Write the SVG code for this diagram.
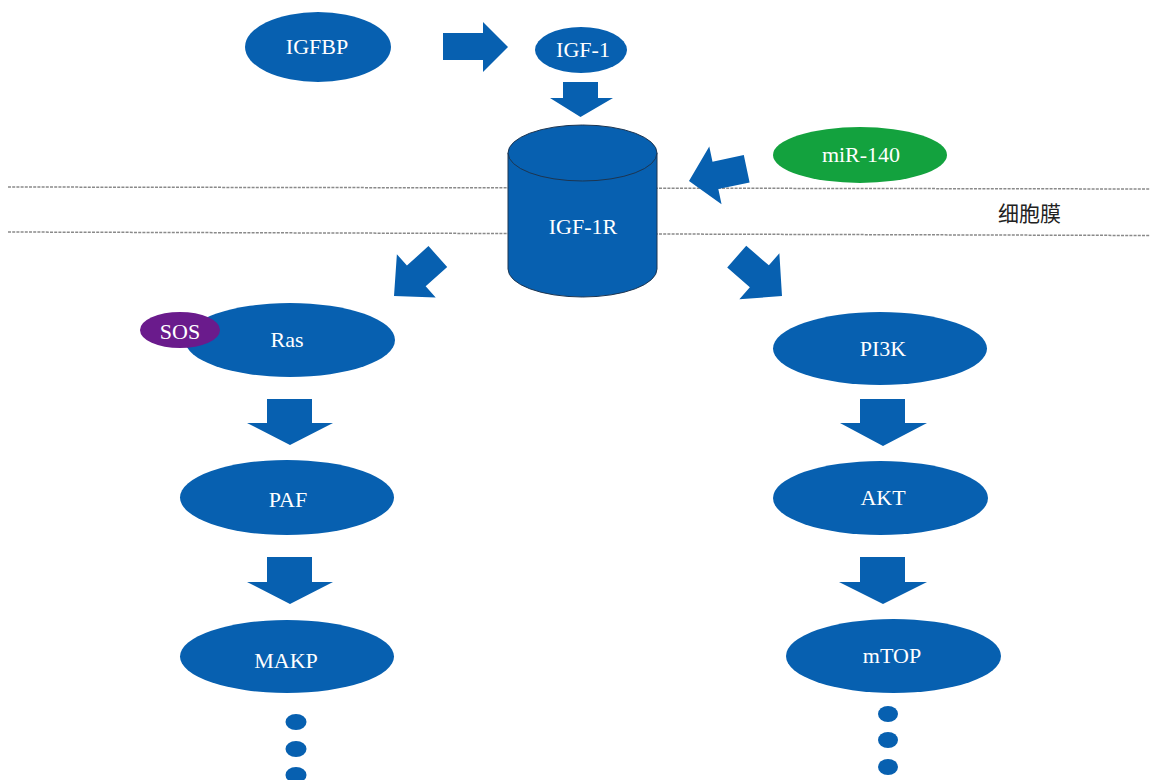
<svg xmlns="http://www.w3.org/2000/svg" width="1150" height="780" viewBox="0 0 1150 780">
<style>
.n{fill:#0760b0}
.t{font-family:"Liberation Serif","Times New Roman",serif;font-size:22px;fill:#ffffff;text-anchor:middle}
.arr{fill:#0760b0}
.mem{stroke:#8a8a8a;stroke-width:1.5;stroke-dasharray:3 1.2;fill:none}
.dot{fill:#0760b0}
</style>
<rect width="1150" height="780" fill="#ffffff"/>
<g id="membrane">
<line class="mem" x1="8" y1="187" x2="1150" y2="189"/>
<line class="mem" x1="8" y1="232" x2="1150" y2="235.5"/>
<text x="998" y="221" style="font-family:'Noto Sans CJK SC','Noto Sans',sans-serif;font-size:21px;fill:#222">细胞膜</text>
</g>
<g id="connectors">
<path class="arr" d="M443,33 L483,33 L483,22 L508,47 L483,72 L483,60 L443,60 Z"/>
<path class="arr" d="M563,82 L598,82 L598,98 L613,98 L580.5,117 L550,98 L563,98 Z"/>
<path class="arr" transform="translate(689,181) rotate(168)" d="M0,0 L-27,-29.5 L-27,-14 L-59,-14 L-59,14 L-27,14 L-27,29.5 Z"/>
<path class="arr" transform="translate(394,296) rotate(138)" d="M0,0 L-30,-29 L-30,-14 L-59,-14 L-59,14 L-30,14 L-30,29 Z"/>
<path class="arr" transform="translate(782,296) rotate(41)" d="M0,0 L-30,-30.5 L-30,-14.5 L-60,-14.5 L-60,14.5 L-30,14.5 L-30,30.5 Z"/>
<path class="arr" d="M267,399 L312,399 L312,423 L333,423 L290,445 L247,423 L267,423 Z"/>
<path class="arr" d="M267,557 L312,557 L312,582 L333,582 L290,604 L247,582 L267,582 Z"/>
<path class="arr" d="M860,399 L905,399 L905,423 L927,423 L883,446 L840,423 L860,423 Z"/>
<path class="arr" d="M860,557 L905,557 L905,582 L927,582 L883,604 L839,582 L860,582 Z"/>
</g>
<g id="IGFBP"><ellipse class="n" cx="318" cy="47" rx="73" ry="35"/><text class="t" x="317" y="54">IGFBP</text></g>
<g id="IGF-1"><ellipse class="n" cx="581" cy="50" rx="46" ry="23"/><text class="t" x="583" y="57">IGF-1</text></g>
<g id="IGF-1R">
<path d="M508,153 L508,269 A74.5,28 0 0 0 657,269 L657,153 Z" fill="#0760b0" stroke="#1d3550" stroke-width="1"/>
<ellipse cx="582.5" cy="153" rx="74.5" ry="28" fill="#0760b0" stroke="#1d3550" stroke-width="1"/>
<text class="t" x="583" y="234">IGF-1R</text>
</g>
<g id="miR-140"><ellipse cx="860" cy="155" rx="87" ry="28" fill="#13a23e"/><text class="t" x="861" y="162">miR-140</text></g>
<g id="Ras"><ellipse class="n" cx="290" cy="340" rx="105" ry="37"/><text class="t" x="287" y="347">Ras</text></g>
<g id="SOS"><ellipse cx="180" cy="330" rx="40" ry="18" fill="#6a1b8c"/><text class="t" x="180" y="339">SOS</text></g>
<g id="PAF"><ellipse class="n" cx="287" cy="497.5" rx="107" ry="37.5"/><text class="t" x="288" y="507">PAF</text></g>
<g id="MAKP"><ellipse class="n" cx="287" cy="656.5" rx="107" ry="36.5"/><text class="t" x="286" y="668">MAKP</text></g>
<g id="PI3K"><ellipse class="n" cx="880" cy="348.5" rx="107" ry="36.5"/><text class="t" x="883" y="356">PI3K</text></g>
<g id="AKT"><ellipse class="n" cx="880.5" cy="498" rx="107.5" ry="37"/><text class="t" x="883" y="505">AKT</text></g>
<g id="mTOP"><ellipse class="n" cx="893.5" cy="656" rx="107.5" ry="37"/><text class="t" x="892" y="663">mTOP</text></g>
<g id="dots-left"><ellipse class="dot" cx="296" cy="722" rx="10.5" ry="8"/><ellipse class="dot" cx="296" cy="749" rx="10.5" ry="8"/><ellipse class="dot" cx="296" cy="775" rx="10.5" ry="8"/></g>
<g id="dots-right"><ellipse class="dot" cx="888" cy="714" rx="10" ry="8"/><ellipse class="dot" cx="888" cy="740" rx="10" ry="8"/><ellipse class="dot" cx="888" cy="767" rx="10" ry="8"/></g>
</svg>
